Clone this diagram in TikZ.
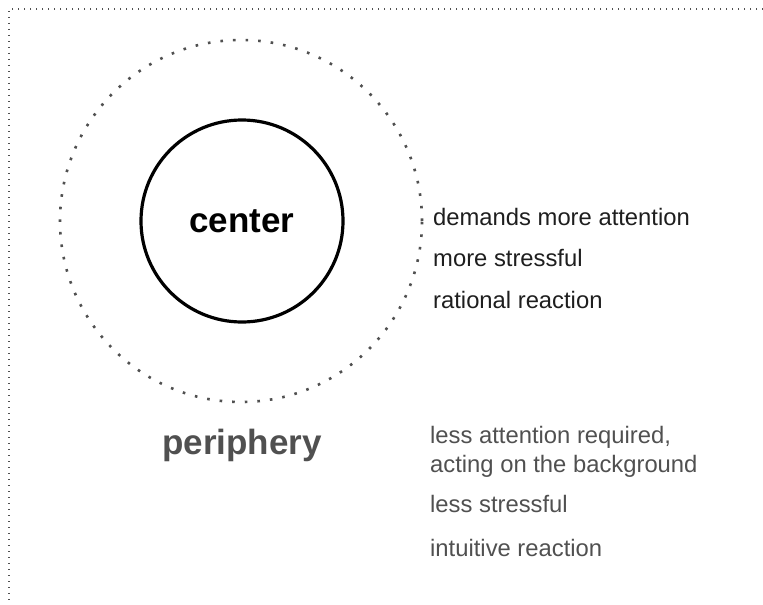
\documentclass[tikz,border=0pt]{standalone}
\usepackage{fontspec}
\setmainfont{Liberation Sans}
\definecolor{ink}{HTML}{1E1E1E}
\definecolor{dim}{HTML}{505050}

\begin{document}
\begin{tikzpicture}[
    x=1pt,y=-1pt,
    core/.style={circle,draw=black,line width=3.2pt,minimum size=202pt,inner sep=0pt,
        font=\fontsize{35}{35}\selectfont\bfseries},
    halo/.style={circle,draw=dim,line width=2.6pt,
        dash pattern=on 2.6pt off 10pt,minimum size=362pt,inner sep=0pt},
    title/.style={anchor=base west,inner sep=0pt,text=dim,font=\fontsize{35}{35}\selectfont\bfseries},
    note/.style={anchor=base west,inner sep=0pt,font=\fontsize{23.8}{28}\selectfont},
    frame/.style={draw=dim,line width=1.3pt,dash pattern=on 1.3pt off 4.7pt}
]
    \useasboundingbox (0,0) rectangle (763,605);
    % open frame, top and left edges only
    \coordinate (corner) at (9,9);
    \draw[frame] (763,9) -- (corner) -- (9,605);

    % attention zones
    \node[halo] (outer) at (241,221) {};
    \node[core] (center) at (242,221) {center};
    \node[title] (periphery) at (162,454) {periphery};

    \node[note,text=ink] (c1) at (433,225) {demands more attention};
    \node[note,text=ink] (c2) at (433,266) {more stressful};
    \node[note,text=ink] (c3) at (433,308) {rational reaction};

    % base of a two-line node sits on its last line
    \node[note,text=dim,align=left] (p1) at (430,472) {less attention required,\\[1pt]acting on the background};
    \node[note,text=dim] (p2) at (430,512) {less stressful};
    \node[note,text=dim] (p3) at (430,556) {intuitive reaction};
\end{tikzpicture}
\end{document}
